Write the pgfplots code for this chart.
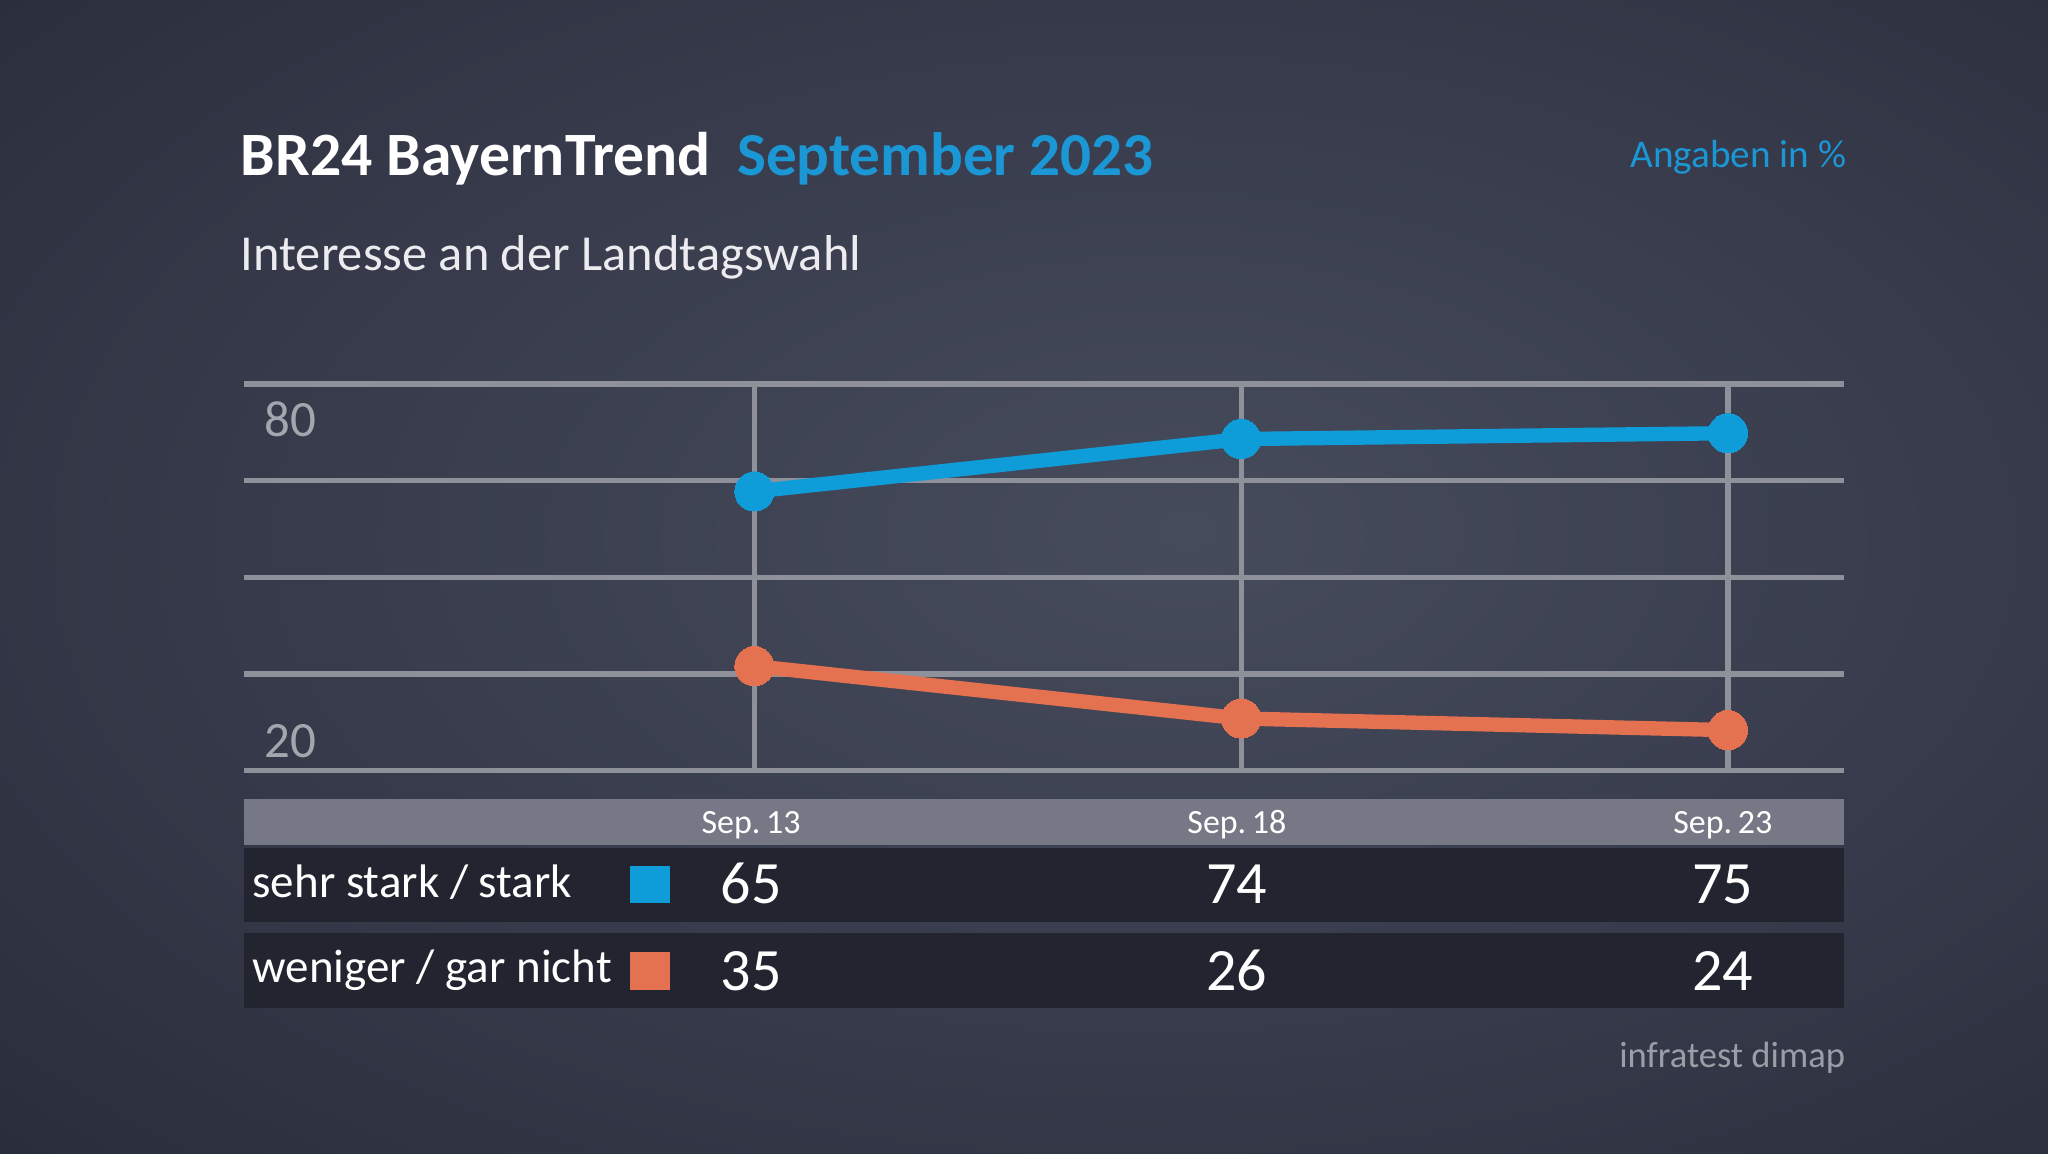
\documentclass[border=0pt]{standalone}
\usepackage{fontspec}
\setmainfont{Carlito}
\usepackage{pgfplots}
\pgfplotsset{compat=1.18}
\usepackage{pgfplotstable}

\definecolor{bgin}{HTML}{474C5D}
\definecolor{bgmid}{HTML}{363A4A}
\definecolor{bgout}{HTML}{242835}
\definecolor{gridc}{HTML}{8E9199}
\definecolor{blu}{HTML}{0E9DD9}
\definecolor{ora}{HTML}{E4714F}
\definecolor{titleblue}{HTML}{1B97D5}
\definecolor{rowc}{HTML}{22252F}
\definecolor{headc}{HTML}{767985}
\definecolor{lab}{HTML}{A3A6AE}
\definecolor{src}{HTML}{9B9EA6}
\definecolor{subc}{HTML}{ECECF0}

\pgfdeclareradialshading{bgshade}{\pgfpoint{4bp}{2bp}}{color(0bp)=(bgin); color(22bp)=(bgmid); color(45bp)=(bgout); color(80bp)=(bgout)}

\pgfplotstableread{
x stark nicht
0 65 35
1 74 26
2 75 24
}\datatable

\begin{document}
\begin{tikzpicture}[x=0.5pt,y=-0.5pt]
\shade[shading=bgshade] (0,0) rectangle (1568,883);

% titles
\node[anchor=base west,inner sep=0pt,text=white,font=\fontsize{23.6}{28}\selectfont\bfseries] at (184,134) {BR24 BayernTrend};
\node[anchor=base west,inner sep=0pt,text=titleblue,font=\fontsize{23.4}{28}\selectfont\bfseries] at (564,134) {September 2023};
\node[anchor=base east,inner sep=0pt,text=titleblue,font=\fontsize{15}{18}\selectfont] at (1414,128) {Angaben in \%};
\node[anchor=base west,inner sep=0pt,text=subc,font=\fontsize{19.3}{24}\selectfont] at (184,207) {Interesse an der Landtagswahl};

% table
\fill[headc] (187,612) rectangle (1412,647);
\fill[rowc] (187,649) rectangle (1412,706);
\fill[rowc] (187,714) rectangle (1412,772);
\fill[blu] (482,663) rectangle (513,691);
\fill[ora] (482,729) rectangle (513,758);
\node[anchor=base west,inner sep=0pt,text=white,font=\fontsize{18}{22}\selectfont] at (193,687) {sehr stark / stark};
\node[anchor=base west,inner sep=0pt,text=white,font=\fontsize{18}{22}\selectfont] at (193,752) {weniger / gar nicht};
\foreach \xx/\dd/\aa/\bb in {575/13/65/35, 947/18/74/26, 1319/23/75/24}{
  \node[anchor=base,inner sep=0pt,text=white,font=\fontsize{13}{15}\selectfont] at (\xx,638) {Sep.\,\dd};
  \node[anchor=base,inner sep=0pt,text=white,font=\fontsize{23}{26}\selectfont] at (\xx,692) {\aa};
  \node[anchor=base,inner sep=0pt,text=white,font=\fontsize{23}{26}\selectfont] at (\xx,758) {\bb};
}
\node[anchor=base east,inner sep=0pt,text=src,font=\fontsize{14}{17}\selectfont] at (1413,817) {infratest dimap};

\begin{axis}[
  at={(93.5pt,-295pt)}, anchor=south west,
  width=612.5pt, height=148pt, scale only axis,
  xmin=-1.048, xmax=2.239,
  ymin=17.05, ymax=83.45,
  xtick={0,1,2}, ytick={17.05,33.65,50.25,66.85,83.45},
  xticklabels={}, yticklabels={},
  grid=major,
  major grid style={draw=gridc, line width=2pt},
  axis line style={draw=none},
  tick style={draw=none},
  clip=false,
]
\addplot[blu, line width=5.5pt, mark=*, mark size=7.5pt, mark options={fill=blu, draw=blu, line width=0pt}] table[x=x, y=stark] {\datatable};
\addplot[ora, line width=5.5pt, mark=*, mark size=7.5pt, mark options={fill=ora, draw=ora, line width=0pt}] table[x=x, y=nicht] {\datatable};
\end{axis}

\node[anchor=base west,inner sep=0pt,text=lab,font=\fontsize{19.5}{23}\selectfont] at (202,334) {80};
\node[anchor=base west,inner sep=0pt,text=lab,font=\fontsize{19.5}{23}\selectfont] at (202,580) {20};

\pgfresetboundingbox
\useasboundingbox (0,0) rectangle (1568,883);
\end{tikzpicture}
\end{document}
